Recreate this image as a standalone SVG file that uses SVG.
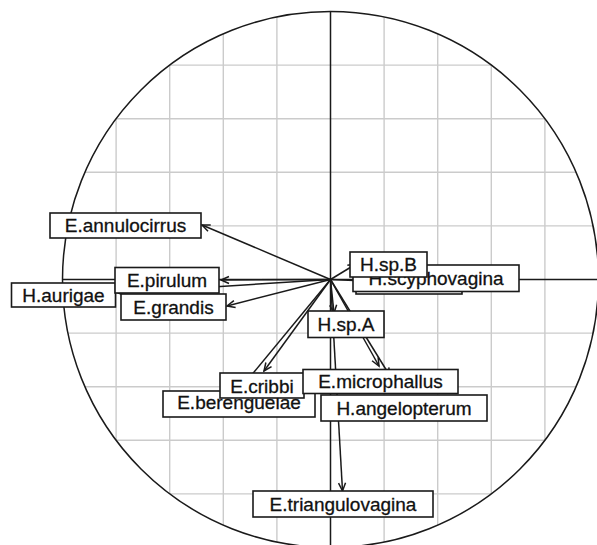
<svg xmlns="http://www.w3.org/2000/svg" width="597" height="545" viewBox="0 0 597 545">
<style>
.grid{stroke:#cbcbcb;stroke-width:1.4;fill:none}
.axis{stroke:#1a1a1a;stroke-width:1.5;fill:none}
.arr{stroke:#1a1a1a;stroke-width:1.5;fill:none;marker-end:url(#ah)}
.box{fill:#fff;stroke:#1a1a1a;stroke-width:1.6}
.lbl{font-family:"Liberation Sans",Arial,sans-serif;font-size:19px;fill:#111;stroke:#111;stroke-width:0.3;text-anchor:middle}
</style>
<defs>
<clipPath id="cc"><circle cx="330.5" cy="279.5" r="268"/></clipPath>
<marker id="ah" viewBox="-10 -5 12 10" refX="0" refY="0" markerWidth="12" markerHeight="10" markerUnits="userSpaceOnUse" orient="auto">
<path d="M-8,-3.5 L0,0 L-8,3.5" fill="none" stroke="#1a1a1a" stroke-width="1.5"/>
</marker>
</defs>
<rect width="597" height="545" fill="#fff"/>
<g id="grid" clip-path="url(#cc)" class="grid">
<path d="M116.1,0V545M169.7,0V545M223.3,0V545M276.9,0V545M384.1,0V545M437.7,0V545M491.3,0V545M544.9,0V545"/>
<path d="M0,65.1H597M0,118.7H597M0,172.3H597M0,225.9H597M0,333.1H597M0,386.7H597M0,440.3H597M0,493.9H597"/>
</g>
<circle cx="330.5" cy="279.5" r="268" class="axis"/>
<g id="axes" class="axis">
<path d="M62.5,279.5H597M330.5,11.5V545"/>
</g>
<g id="connectors">
<path class="arr" d="M330.5,279.5L202,225"/>
<path class="arr" d="M330.5,279.5L221,280"/>
<path class="arr" d="M330.5,279.5L118,293"/>
<path class="arr" d="M330.5,279.5L227,306"/>
<path class="arr" d="M330.5,279.5L264,371"/>
<path class="arr" d="M330.5,279.5L240,389"/>
<path class="arr" d="M330.5,279.5L342.5,491"/>
<path class="arr" d="M330.5,279.5L379,366"/>
<path class="arr" d="M330.5,279.5L390,376"/>
<path class="arr" d="M330.5,279.5L334,313"/>
<path class="arr" d="M330.5,279.5L356,264"/>
<path class="arr" d="M330.5,279.5L366,281"/>
</g>
<g id="n-annulocirrus"><rect class="box" x="50" y="213" width="151" height="25"/><text class="lbl" x="125.5" y="232">E.annulocirrus</text></g>
<g id="n-aurigae"><rect class="box" x="11.5" y="283" width="104" height="24"/><text class="lbl" x="63.5" y="301.5">H.aurigae</text></g>
<g id="n-pirulum"><rect class="box" x="115" y="267.5" width="104" height="25.5"/><text class="lbl" x="167" y="287">E.pirulum</text></g>
<g id="n-grandis"><rect class="box" x="121" y="294" width="105" height="26"/><text class="lbl" x="173.5" y="313.5">E.grandis</text></g>
<g id="n-hidden"><rect class="box" x="356" y="268" width="106" height="26"/></g>
<g id="n-scyphovagina"><rect class="box" x="353" y="265" width="166" height="26.5"/><text class="lbl" x="436" y="284.5">H.scyphovagina</text></g>
<g id="n-spB"><rect class="box" x="350" y="252" width="77" height="25"/><text class="lbl" x="388.5" y="271">H.sp.B</text></g>
<g id="n-spA"><rect class="box" x="308" y="311" width="76" height="26.5"/><text class="lbl" x="346" y="331">H.sp.A</text></g>
<g id="n-berenguelae"><rect class="box" x="163" y="391" width="152" height="26"/><text class="lbl" x="239" y="409">E.berenguelae</text></g>
<g id="n-cribbi"><rect class="box" x="220" y="373" width="84" height="25"/><text class="lbl" x="262" y="393">E.cribbi</text></g>
<g id="n-microphallus"><rect class="box" x="303" y="369.5" width="155" height="24"/><text class="lbl" x="380.5" y="388">E.microphallus</text></g>
<g id="n-angelopterum"><rect class="box" x="321" y="395" width="166" height="26"/><text class="lbl" x="404" y="414.5">H.angelopterum</text></g>
<g id="n-triangulovagina"><rect class="box" x="253" y="491" width="180" height="26"/><text class="lbl" x="343" y="510.5">E.triangulovagina</text></g>
</svg>
